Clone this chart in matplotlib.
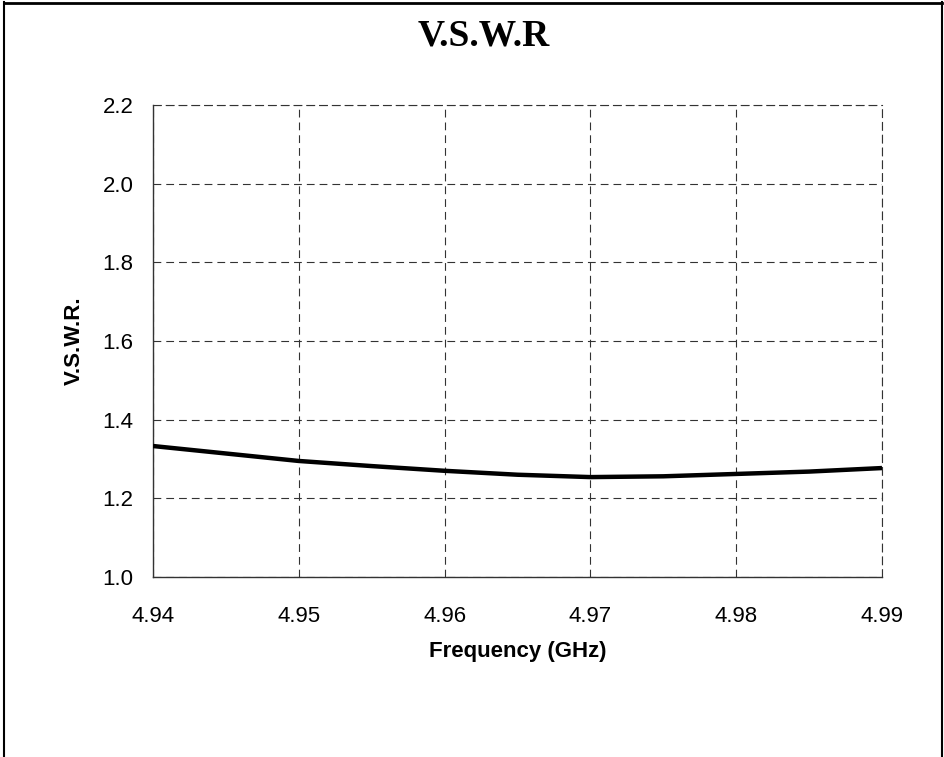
import numpy as np
import matplotlib.pyplot as plt
from matplotlib.lines import Line2D

freq = [4.940, 4.945, 4.950, 4.955, 4.960, 4.965, 4.970, 4.975, 4.980, 4.985, 4.990]
vswr = [1.333, 1.314, 1.295, 1.282, 1.270, 1.260, 1.254, 1.256, 1.262, 1.268, 1.277]

xticks = [4.94, 4.95, 4.96, 4.97, 4.98, 4.99]
yticks = [1.0, 1.2, 1.4, 1.6, 1.8, 2.0, 2.2]

fig = plt.figure(figsize=(9.45, 7.57), dpi=100)
ax = fig.add_axes([153 / 945, 1 - 577 / 757, 729 / 945, 472 / 757])

ax.plot(freq, vswr, color='black', lw=3.2, solid_capstyle='butt', zorder=3)

ax.set_xlim(4.94, 4.99)
ax.set_ylim(1.0, 2.2)
ax.set_xticks(xticks)
ax.set_xticklabels([f"{t:.2f}" for t in xticks])
ax.set_yticks(yticks)
ax.set_yticklabels([f"{t:.1f}" for t in yticks])
ax.tick_params(labelsize=16, length=0, labelfontfamily='Liberation Sans')
ax.tick_params(axis='x', pad=21)
ax.tick_params(axis='y', pad=14)

dash = (0, (7, 4.5))
ax.grid(True, color='#333333', linestyle=dash, lw=0.8)
for side in ['top', 'right']:
    ax.spines[side].set_linestyle(dash)
    ax.spines[side].set_linewidth(0.8)
    ax.spines[side].set_color('#333333')
for side in ['left', 'bottom']:
    ax.spines[side].set_linewidth(1.0)
    ax.spines[side].set_color('#333333')

ax.set_xlabel("Frequency (GHz)", fontsize=16, fontweight='bold',
              family='Liberation Sans', labelpad=10)
ax.set_ylabel("V.S.W.R.", fontsize=16, fontweight='bold',
              family='Liberation Sans', labelpad=13)

fig.text(484 / 945, 1 - 36 / 757, "V.S.W.R", ha='center', va='center', fontsize=27,
         fontweight='bold', family='Liberation Serif')

# outer frame (bottom edge is cut off in the original)
fig.add_artist(Line2D([0.004, 0.004], [0, 0.997], transform=fig.transFigure, color='black', lw=1.5))
fig.add_artist(Line2D([0.004, 0.997], [0.996, 0.996], transform=fig.transFigure, color='black', lw=2.0))
fig.add_artist(Line2D([0.997, 0.997], [0, 0.997], transform=fig.transFigure, color='black', lw=1.5))

fig.savefig("out.png", dpi=100)
